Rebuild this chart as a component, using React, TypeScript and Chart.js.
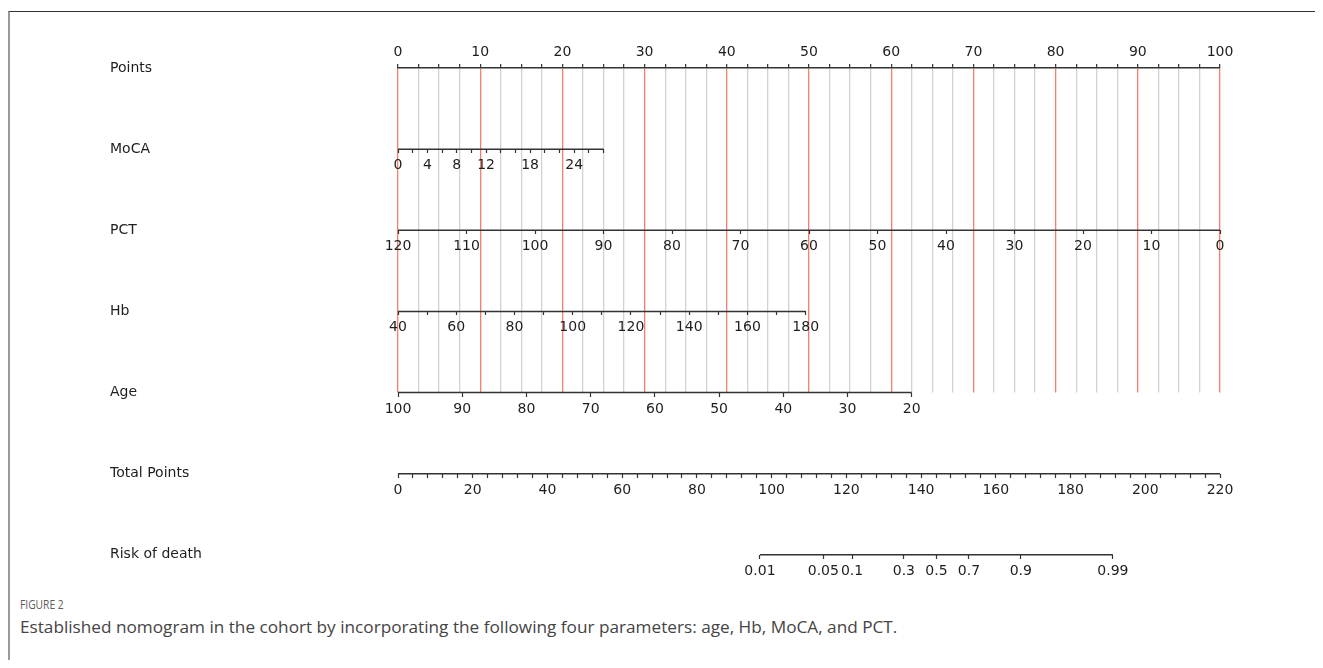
import React, { useEffect, useRef } from 'react';
import { Chart, registerables } from 'chart.js';

Chart.register(...registerables);

// Row titles, top to bottom
const ROW_LABELS = ['Points', 'MoCA', 'PCT', 'Hb', 'Age', 'Total Points', 'Risk of death'];

// Points scale (0–100), minor marks every 2.5, labels every 10
const POINTS_MAX = 100;
const POINTS_STEP = 2.5;
const POINTS_LABEL_STEP = 10;

// Each predictor: [value at 0 points, value at the far end], and the points reached at that far end
const MOCA_ENDS = [0, 28];
const MOCA_END_POINTS = 25;
const MOCA_TICKS = [0, 2, 4, 6, 8, 10, 12, 14, 16, 18, 20, 22, 24, 26, 28];
const MOCA_LABELS = [0, 4, 8, 12, 18, 24];

const PCT_ENDS = [120, 0];
const PCT_END_POINTS = 100;
const PCT_TICKS = [120, 110, 100, 90, 80, 70, 60, 50, 40, 30, 20, 10, 0];
const PCT_LABELS = PCT_TICKS;

const HB_ENDS = [40, 180];
const HB_END_POINTS = 49.6;
const HB_TICKS = [40, 50, 60, 70, 80, 90, 100, 110, 120, 130, 140, 150, 160, 170, 180];
const HB_LABELS = [40, 60, 80, 100, 120, 140, 160, 180];

const AGE_ENDS = [100, 20];
const AGE_END_POINTS = 62.5;
const AGE_TICKS = [100, 90, 80, 70, 60, 50, 40, 30, 20];
const AGE_LABELS = AGE_TICKS;

// Total points (0–220 spread over the same width as 0–100 points)
const TOTAL_ENDS = [0, 220];
const TOTAL_END_POINTS = 100;
const TOTAL_MINOR_STEP = 4;
const TOTAL_LABELS = [0, 20, 40, 60, 80, 100, 120, 140, 160, 180, 200, 220];

// Risk of death: logistic model on total points
const RISK_TICKS = [0.01, 0.05, 0.1, 0.3, 0.5, 0.7, 0.9, 0.99];
const RISK_LABELS = ['0.01', '0.05', '0.1', '0.3', '0.5', '0.7', '0.9', '0.99'];
const RISK_TOTAL_AT_HALF = 144.1;
const RISK_SLOPE = 0.0973;

const AXIS_COLOR = '#333333';
const TEXT_COLOR = '#1e1e1e';
const GRID_MAJOR = '#f47f6c';
const GRID_MINOR = '#d2d2d2';
const TICK_FONT = { family: '"DejaVu Sans", sans-serif', size: 14 };

const logit = (p: number) => Math.log(p / (1 - p));

function stepTicks(from: number, to: number, step: number): number[] {
  const out: number[] = [];
  for (let v = from; v <= to + 1e-9; v += step) out.push(Math.round(v * 1000) / 1000);
  return out;
}

// A horizontal axis laid on one row; its range is stretched so that it lines up with the points scale.
function rowAxis(row: number, ends: number[], endPoints: number, ticks: number[], label: (v: number, i: number) => string) {
  const [v0, v1] = ends;
  const atMax = v0 + ((v1 - v0) * POINTS_MAX) / endPoints;
  return {
    type: 'linear' as const,
    axis: 'x' as const,
    position: { y: row },
    min: Math.min(v0, atMax),
    max: Math.max(v0, atMax),
    reverse: v1 < v0,
    border: { display: false },
    grid: {
      display: true,
      drawOnChartArea: false,
      drawTicks: true,
      tickLength: 4,
      tickColor: AXIS_COLOR,
      tickWidth: 1.2,
    },
    ticks: {
      autoSkip: false,
      maxRotation: 0,
      minRotation: 0,
      padding: 4,
      font: TICK_FONT,
      color: TEXT_COLOR,
      callback: (v: number, i: number) => label(v, i),
    },
    afterBuildTicks: (s: any) => {
      s.ticks = ticks.map((value) => ({ value }));
    },
  };
}

function axisLine(axisId: string, row: number, from: number, to: number) {
  return {
    type: 'line' as const,
    xAxisID: axisId,
    yAxisID: 'y',
    data: [
      { x: from, y: row },
      { x: to, y: row },
    ],
    borderColor: AXIS_COLOR,
    borderWidth: 1.5,
    pointRadius: 0,
    tension: 0,
    clip: false as const,
  };
}

const riskAt = (total: number) => RISK_SLOPE * (total - RISK_TOTAL_AT_HALF);

export default function App() {
  const canvasRef = useRef<HTMLCanvasElement>(null);

  useEffect(() => {
    const canvas = canvasRef.current;
    if (!canvas) return;

    const riskMin = riskAt(TOTAL_ENDS[0]);
    const riskMax = riskAt(TOTAL_ENDS[1]);
    const riskValues = RISK_TICKS.map(logit);

    const chart = new Chart(canvas, {
      type: 'line',
      data: {
        datasets: [
          axisLine('xMoca', 1, MOCA_ENDS[0], MOCA_ENDS[1]),
          axisLine('xPct', 2, PCT_ENDS[0], PCT_ENDS[1]),
          axisLine('xHb', 3, HB_ENDS[0], HB_ENDS[1]),
          axisLine('xAge', 4, AGE_ENDS[0], AGE_ENDS[1]),
          axisLine('xTotal', 5, TOTAL_ENDS[0], TOTAL_ENDS[1]),
          axisLine('xRisk', 6, riskValues[0], riskValues[riskValues.length - 1]),
        ],
      },
      options: {
        animation: false,
        responsive: false,
        maintainAspectRatio: false,
        events: [],
        layout: { padding: { left: 100, right: 103, top: 0, bottom: 199.5 } },
        plugins: { legend: { display: false }, tooltip: { enabled: false } },
        scales: {
          x: {
            type: 'linear',
            position: 'top',
            min: 0,
            max: POINTS_MAX,
            border: { display: true, color: AXIS_COLOR, width: 1.5 },
            grid: {
              color: (ctx: any) =>
                ctx.tick && Math.abs(ctx.tick.value % POINTS_LABEL_STEP) < 1e-6 ? GRID_MAJOR : GRID_MINOR,
              lineWidth: 1.3,
              drawTicks: true,
              tickLength: 4,
              tickColor: AXIS_COLOR,
              tickWidth: 1.2,
            },
            ticks: {
              autoSkip: false,
              maxRotation: 0,
              minRotation: 0,
              padding: 3,
              font: TICK_FONT,
              color: TEXT_COLOR,
              callback: (v: any) => (Math.abs(Number(v) % POINTS_LABEL_STEP) < 1e-6 ? String(v) : ''),
            },
            afterBuildTicks: (s: any) => {
              s.ticks = stepTicks(0, POINTS_MAX, POINTS_STEP).map((value) => ({ value }));
            },
            afterFit: (s: any) => {
              s.height = 56;
            },
          },
          y: {
            type: 'linear',
            position: 'left',
            min: 0,
            max: 4,
            reverse: true,
            grid: { display: false },
            border: { display: false },
            ticks: {
              autoSkip: false,
              crossAlign: 'far',
              font: TICK_FONT,
              color: TEXT_COLOR,
              callback: (v: any) => ROW_LABELS[Number(v)] ?? '',
            },
            afterBuildTicks: (s: any) => {
              s.ticks = ROW_LABELS.map((_, i) => ({ value: i }));
            },
            afterFit: (s: any) => {
              s.width = 288;
            },
          },
          xMoca: rowAxis(1, MOCA_ENDS, MOCA_END_POINTS, MOCA_TICKS, (v) =>
            MOCA_LABELS.includes(v) ? String(v) : ''
          ),
          xPct: rowAxis(2, PCT_ENDS, PCT_END_POINTS, PCT_TICKS, (v) => (PCT_LABELS.includes(v) ? String(v) : '')),
          xHb: rowAxis(3, HB_ENDS, HB_END_POINTS, HB_TICKS, (v) => (HB_LABELS.includes(v) ? String(v) : '')),
          xAge: rowAxis(4, AGE_ENDS, AGE_END_POINTS, AGE_TICKS, (v) => (AGE_LABELS.includes(v) ? String(v) : '')),
          xTotal: rowAxis(
            5,
            TOTAL_ENDS,
            TOTAL_END_POINTS,
            stepTicks(TOTAL_ENDS[0], TOTAL_ENDS[1], TOTAL_MINOR_STEP),
            (v) => (TOTAL_LABELS.includes(v) ? String(v) : '')
          ),
          xRisk: rowAxis(6, [riskMin, riskMax], 100, riskValues, (_v, i) => RISK_LABELS[i] ?? ''),
        },
      } as any,
    });

    return () => chart.destroy();
  }, []);

  return (
    <div
      style={{
        marginTop: 3,
        marginBottom: -8,
        width: 1315,
        height: 657,
        boxSizing: 'border-box',
        borderTop: '1px solid #333',
        borderLeft: '2px solid #9a9a9a',
        overflow: 'hidden',
      }}
    >
      <canvas ref={canvasRef} width={1313} height={580} style={{ display: 'block', width: 1313, height: 580 }} />
      <div style={{ paddingLeft: 10, fontFamily: '"Open Sans", sans-serif' }}>
        <div
          style={{
            marginTop: 3,
            fontSize: 13.5,
            lineHeight: '16px',
            color: '#5c5c5c',
            display: 'inline-block',
            transform: 'scaleX(0.76)',
            transformOrigin: 'left center',
          }}
        >
          FIGURE 2
        </div>
        <div style={{ marginTop: 2, fontSize: 17.2, lineHeight: '22px', color: '#444' }}>
          Established nomogram in the cohort by incorporating the following four parameters: age, Hb, MoCA, and PCT.
        </div>
      </div>
    </div>
  );
}
